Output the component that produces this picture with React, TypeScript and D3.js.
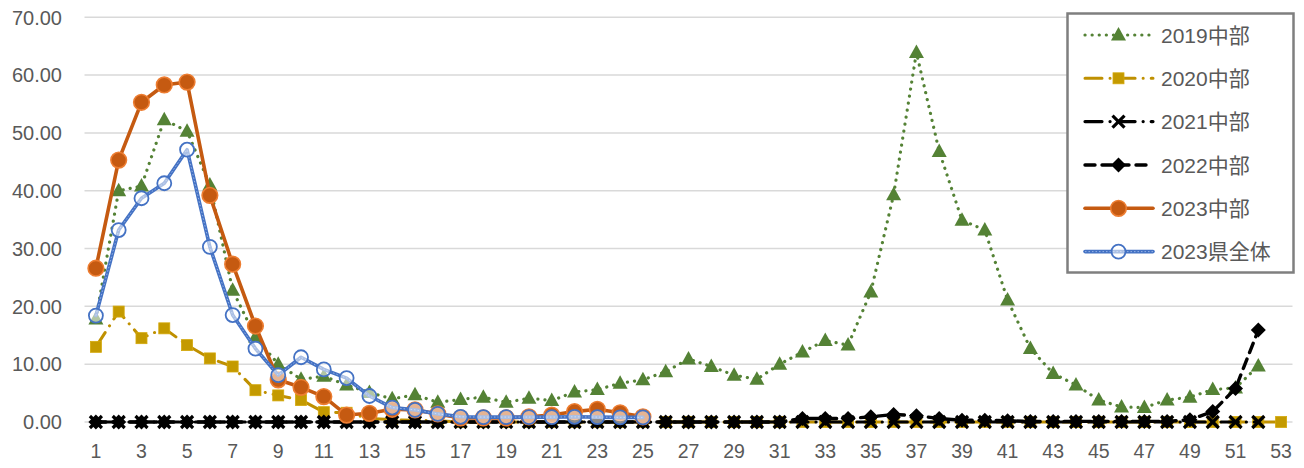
import React from "react";
import * as d3 from "d3";

const weeks = [1,2,3,4,5,6,7,8,9,10,11,12,13,14,15,16,17,18,19,20,21,22,23,24,25,26,27,28,29,30,31,32,33,34,35,36,37,38,39,40,41,42,43,44,45,46,47,48,49,50,51,52,53];
const xTickLabels = [1,3,5,7,9,11,13,15,17,19,21,23,25,27,29,31,33,35,37,39,41,43,45,47,49,51,53];
const yTicks = [0,10,20,30,40,50,60,70];

const s2019 = [17.8,40.0,40.8,52.3,50.3,41.0,22.8,14.7,10.0,7.4,7.9,6.4,5.1,4.0,4.7,3.4,3.9,4.3,3.4,4.1,3.7,5.2,5.6,6.7,7.3,8.7,10.9,9.6,8.1,7.4,10.0,12.1,14.1,13.3,22.5,39.3,63.9,46.8,34.9,33.2,21.1,12.7,8.4,6.4,3.8,2.6,2.5,3.8,4.3,5.6,5.9,9.7];
const s2020 = [13.0,19.1,14.5,16.2,13.3,11.0,9.6,5.5,4.6,3.8,1.7,1.6,0.6,0.4,0.3,0.2,0,0,0,0,0,0,0,0,0,0,0,0,0,0,0,0,0,0,0,0,0,0,0,0,0,0,0,0,0,0,0,0,0,0,0,0,0];
const s2021 = [0,0,0,0,0,0,0,0,0,0,0,0,0,0,0,0,0,0,0,0,0,0,0,0,0,0,0,0,0,0,0,0,0,0,0,0,0,0,0,0,0,0,0,0,0,0,0,0,0,0,0,0];
const s2022 = [0,0,0,0,0,0,0,0,0,0,0,0,0,0,0,0,0,0,0,0,0,0,0,0,0,0,0,0,0,0,0,0.6,0.6,0.6,0.9,1.3,1.1,0.6,0.3,0.3,0.2,0.1,0.1,0.1,0.1,0.1,0.1,0.1,0.4,1.8,5.8,15.9];
const s2023 = [26.6,45.3,55.3,58.3,58.8,39.2,27.3,16.6,7.3,6.0,4.4,1.2,1.5,2.2,2.1,1.4,0.7,0.7,0.7,0.9,1.2,1.8,2.2,1.6,0.9];
const s2023all = [18.4,33.2,38.7,41.3,47.1,30.3,18.5,12.7,8.1,11.2,9.1,7.6,4.5,2.5,2.1,1.4,0.9,0.85,0.85,0.85,0.85,0.9,0.85,0.8,0.8];

const seriesNames = ["2019中部","2020中部","2021中部","2022中部","2023中部","2023県全体"];

const W = 1304, H = 468;
const left = 84.5, right = 1292.5, top = 17.3, bottom = 422;
const axisFont = "'Liberation Sans', 'Noto Sans CJK JP', sans-serif";

type Style = {
  color: string; width: number; dash?: string; cap?: string;
  marker: "tri" | "sq" | "x" | "dia" | "circ" | "ocirc";
};

const styles: Style[] = [
  { color: "#548235", width: 3.2, dash: "0.1,7", cap: "round", marker: "tri" },
  { color: "#BF9000", width: 3, dash: "17,8,0.1,8", cap: "round", marker: "sq" },
  { color: "#000000", width: 3.2, dash: "17,8,0.1,8", cap: "round", marker: "x" },
  { color: "#000000", width: 3.4, dash: "10,7", cap: "round", marker: "dia" },
  { color: "#C55A11", width: 3.6, marker: "circ" },
  { color: "#4472C4", width: 3.6, marker: "ocirc" },
];

function Marker({ kind, x, y }: { kind: Style["marker"]; x: number; y: number }) {
  switch (kind) {
    case "tri":
      return <path d={`M${x},${y - 8} L${x + 7.5},${y + 5.5} L${x - 7.5},${y + 5.5} Z`} fill="#548235" />;
    case "sq":
      return <rect x={x - 5.5} y={y - 5.5} width={11} height={11} fill="#C49A00" stroke="#D4A90A" strokeWidth={0.8} />;
    case "x":
      return (
        <g stroke="#000" strokeWidth={3.2}>
          <line x1={x - 6} y1={y - 6} x2={x + 6} y2={y + 6} />
          <line x1={x - 6} y1={y + 6} x2={x + 6} y2={y - 6} />
        </g>
      );
    case "dia":
      return <path d={`M${x},${y - 7.5} L${x + 7.5},${y} L${x},${y + 7.5} L${x - 7.5},${y} Z`} fill="#000" />;
    case "circ":
      return <circle cx={x} cy={y} r={7.8} fill="#C55A11" stroke="#ED7D31" strokeWidth={1.6} />;
    case "ocirc":
      return <circle cx={x} cy={y} r={7} fill="rgba(255,255,255,0.55)" stroke="#4472C4" strokeWidth={1.8} />;
  }
  return null;
}

export default function App() {
  const x = d3.scalePoint<number>().domain(weeks).range([left, right]).padding(0.5);
  const y = d3.scaleLinear().domain([0, 70]).range([bottom, top]);
  const data = [s2019, s2020, s2021, s2022, s2023, s2023all];

  const line = d3.line<number>()
    .x((_, i) => x(weeks[i]) as number)
    .y((d) => y(d));

  const legendX1 = 1085, legendX2 = 1153, legendMX = 1118.5, legendTX = 1161;
  const legendRows = [35, 78.3, 121.6, 165, 208.3, 251.6];

  return (
    <svg width={W} height={H} style={{ display: "block", position: "absolute", left: 0, top: 0 }}>
      <rect x={0} y={0} width={W} height={H} fill="#fff" />
      {yTicks.map((t) => (
        <g key={t}>
          <line x1={left} x2={right} y1={y(t)} y2={y(t)} stroke="#d9d9d9" strokeWidth={1.5} />
          <text x={62} y={y(t)} dy="0.36em" textAnchor="end" fontSize={20} fill="#595959" fontFamily={axisFont}>
            {d3.format(".2f")(t)}
          </text>
        </g>
      ))}
      {xTickLabels.map((w) => (
        <text key={w} x={x(w)} y={451} dy="0.36em" textAnchor="middle" fontSize={19.5} fill="#595959" fontFamily={axisFont}>
          {w}
        </text>
      ))}
      {data.map((s, si) => {
        const st = styles[si];
        return (
          <g key={si}>
            <path d={line(s) || ""} fill="none" stroke={st.color} strokeWidth={st.width}
              strokeDasharray={st.dash} strokeLinecap={(st.cap as any) || "round"} strokeLinejoin="round" />
            {si === 5 && (
              <path d={line(s) || ""} fill="none" stroke="#9db8e8" strokeWidth={0.9} strokeDasharray="1.5,2" />
            )}
            {s.map((v, i) => (
              <Marker key={i} kind={st.marker} x={x(weeks[i]) as number} y={y(v)} />
            ))}
          </g>
        );
      })}
      <rect x={1067.5} y={13.5} width={226} height={259} fill="#fff" stroke="#7f7f7f" strokeWidth={2.5} />
      {seriesNames.map((name, i) => {
        const st = styles[i];
        const ly = legendRows[i];
        return (
          <g key={name}>
            <line x1={legendX1} x2={legendX2} y1={ly} y2={ly} stroke={st.color} strokeWidth={st.width}
              strokeDasharray={st.dash} strokeLinecap="round" />
            {i === 5 && <line x1={legendX1} x2={legendX2} y1={ly} y2={ly} stroke="#9db8e8" strokeWidth={0.9} strokeDasharray="1.5,2" />}
            <Marker kind={st.marker} x={legendMX} y={ly} />
            <text x={legendTX} y={ly} dy="0.36em" fontSize={21} fill="#595959" fontFamily={axisFont}>{name}</text>
          </g>
        );
      })}
    </svg>
  );
}
